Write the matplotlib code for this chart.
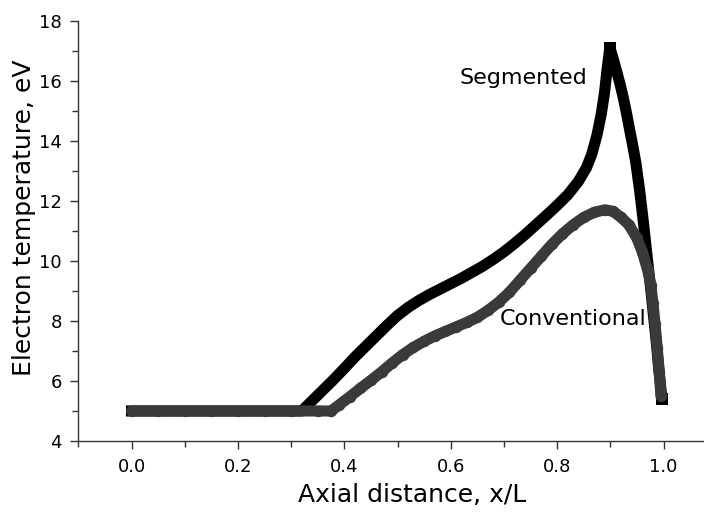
import matplotlib
matplotlib.use("Agg")
import matplotlib.pyplot as plt
from matplotlib.ticker import MultipleLocator

plt.rcParams['font.family'] = ['DejaVu Sans']

seg_x = [0.00, 0.05, 0.10, 0.15, 0.20, 0.25, 0.30, 0.32, 0.34, 0.36, 0.38, 0.40,
         0.42, 0.44, 0.46, 0.48, 0.50, 0.52, 0.54, 0.56, 0.58, 0.60, 0.62, 0.64,
         0.66, 0.68, 0.70, 0.72, 0.74, 0.76, 0.78, 0.80, 0.82, 0.84, 0.855,
         0.865, 0.875, 0.883, 0.889, 0.894, 0.899, 0.905, 0.912, 0.918, 0.924,
         0.930, 0.937, 0.943, 0.948, 0.955, 0.962, 0.970, 0.976, 0.980, 0.986,
         0.991, 0.997]
seg_y = [5.0, 5.0, 5.0, 5.0, 5.0, 5.0, 5.0, 5.0, 5.35, 5.7, 6.05, 6.42,
         6.8, 7.15, 7.5, 7.85, 8.18, 8.45, 8.68, 8.88, 9.06, 9.24, 9.42, 9.62,
         9.82, 10.05, 10.3, 10.58, 10.88, 11.2, 11.52, 11.85, 12.2, 12.65, 13.1,
         13.55, 14.2, 14.9, 15.6, 16.4, 17.1, 16.75, 16.3, 15.9, 15.46,
         14.95, 14.3, 13.75, 13.26, 12.35, 11.3, 10.0, 9.05, 8.36, 7.35,
         6.4, 5.4]

conv_x = [0.00, 0.05, 0.10, 0.15, 0.20, 0.25, 0.30, 0.35, 0.375, 0.39, 0.41,
          0.43, 0.45, 0.47, 0.49, 0.51, 0.53, 0.55, 0.57, 0.59, 0.61, 0.63,
          0.65, 0.67, 0.69, 0.71, 0.73, 0.75, 0.77, 0.79, 0.81, 0.83, 0.85,
          0.87, 0.89, 0.905, 0.92, 0.935, 0.95, 0.96, 0.97, 0.976, 0.98,
          0.984, 0.988, 0.992, 0.995]
conv_y = [5.0, 5.0, 5.0, 5.0, 5.0, 5.0, 5.0, 5.0, 5.0, 5.2, 5.47,
          5.75, 6.02, 6.3, 6.6, 6.88, 7.12, 7.32, 7.5, 7.65, 7.8, 7.95,
          8.12, 8.35, 8.62, 8.95, 9.35, 9.75, 10.15, 10.55, 10.9, 11.2, 11.45,
          11.62, 11.7, 11.65, 11.45, 11.2, 10.75, 10.3, 9.7, 9.2, 8.6,
          7.9, 7.1, 6.3, 5.5]

x_ticks = [0.0, 0.2, 0.4, 0.6, 0.8, 1.0]
y_ticks = [4, 6, 8, 10, 12, 14, 16, 18]

fig = plt.figure(figsize=(7.04, 5.14), dpi=100)
ax = fig.add_axes([78.3 / 704, 73 / 514, (704 - 78.3) / 704, (441 - 20.7) / 514])

n = len(seg_x)
ax.plot(seg_x, seg_y, color='black', lw=8, solid_capstyle='projecting',
        solid_joinstyle='round', zorder=2)
ax.plot(seg_x, seg_y, ls='none', marker='s', ms=8, mew=0, color='black',
        markevery=[seg_y.index(max(seg_y)), n - 1], zorder=2)
ax.plot(conv_x, conv_y, color='#3a3a3a', lw=8, marker='o', ms=8.2, mew=0,
        solid_capstyle='round', solid_joinstyle='round', zorder=3)

ax.set_xlim(-0.1, 1.076)
ax.set_ylim(4, 18)
ax.set_xticks(x_ticks)
ax.set_xticklabels([f"{v:.1f}" for v in x_ticks])
ax.set_yticks(y_ticks)
ax.xaxis.set_minor_locator(MultipleLocator(0.1))
ax.yaxis.set_minor_locator(MultipleLocator(1))

for s in ['top', 'right']:
    ax.spines[s].set_visible(False)
for s in ['left', 'bottom']:
    ax.spines[s].set_linewidth(1.0)
    ax.spines[s].set_color('#333333')

ax.tick_params(which='major', direction='out', length=6, width=1, color='#333333',
               labelsize=13, pad=6)
ax.tick_params(which='minor', direction='out', length=4, width=1, color='#333333')

ax.set_xlabel('Axial distance, x/L', fontsize=18, va='center')
ax.xaxis.set_label_coords(0.533, -0.128)
ax.set_ylabel('Electron temperature, eV', fontsize=18, va='center', ha='center')
ax.yaxis.set_label_coords(-0.087, 0.53)

ax.text(0.617, 16.1, 'Segmented', fontsize=16, va='center', ha='left')
ax.text(0.693, 8.05, 'Conventional', fontsize=16, va='center', ha='left', zorder=1)

fig.savefig('out.png', dpi=100)
